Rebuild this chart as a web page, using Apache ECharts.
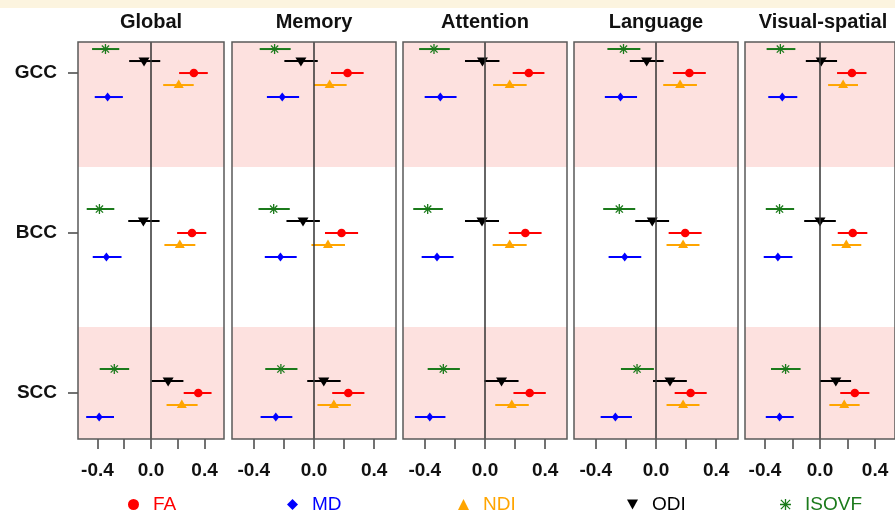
<!DOCTYPE html>
<html>
<head>
<meta charset="utf-8">
<script src="https://cdn.jsdelivr.net/npm/echarts@6/dist/echarts.min.js"></script>
<style>
  html, body { margin: 0; padding: 0; background: #fff; }
  #main { width: 895px; height: 518px; }
</style>
</head>
<body>
<div id="main"></div>
<script>
const panels = ['Global', 'Memory', 'Attention', 'Language', 'Visual-spatial'];
const regions = ['GCC', 'BCC', 'SCC'];
const measures = ['FA', 'MD', 'NDI', 'ODI', 'ISOVF'];
const xTicks = [-0.4, -0.2, 0, 0.2, 0.4];
const xTickLabels = [-0.4, 0, 0.4];

// one row per panel, columns = GCC, BCC, SCC
const faEst = [[0.320, 0.306, 0.353], [0.223, 0.183, 0.228], [0.291, 0.268, 0.297], [0.222, 0.194, 0.230], [0.232, 0.238, 0.253]];
const faLo  = [[0.210, 0.195, 0.244], [0.113, 0.073, 0.121], [0.184, 0.158, 0.189], [0.112, 0.084, 0.124], [0.124, 0.129, 0.147]];
const faHi  = [[0.424, 0.413, 0.452], [0.330, 0.293, 0.335], [0.395, 0.376, 0.404], [0.331, 0.303, 0.337], [0.338, 0.344, 0.359]];

const mdEst = [[-0.324, -0.333, -0.387], [-0.211, -0.223, -0.254], [-0.297, -0.319, -0.367], [-0.236, -0.208, -0.270], [-0.274, -0.306, -0.294]];
const mdLo  = [[-0.420, -0.435, -0.484], [-0.313, -0.327, -0.355], [-0.401, -0.421, -0.466], [-0.340, -0.315, -0.368], [-0.376, -0.409, -0.394]];
const mdHi  = [[-0.210, -0.220, -0.276], [-0.099, -0.115, -0.144], [-0.189, -0.209, -0.263], [-0.126, -0.098, -0.160], [-0.165, -0.200, -0.191]];

const ndiEst = [[0.207, 0.215, 0.230], [0.104, 0.093, 0.132], [0.164, 0.164, 0.178], [0.160, 0.180, 0.180], [0.168, 0.191, 0.176]];
const ndiLo  = [[0.091, 0.100, 0.116], [0.000, -0.017, 0.023], [0.054, 0.051, 0.068], [0.048, 0.070, 0.070], [0.059, 0.085, 0.068]];
const ndiHi  = [[0.319, 0.331, 0.348], [0.217, 0.206, 0.245], [0.277, 0.277, 0.291], [0.272, 0.289, 0.289], [0.276, 0.300, 0.288]];

const odiEst = [[-0.052, -0.057, 0.128], [-0.087, -0.073, 0.065], [-0.017, -0.020, 0.110], [-0.062, -0.025, 0.093], [0.009, 0.000, 0.115]];
const odiLo  = [[-0.163, -0.170, 0.005], [-0.197, -0.183, -0.045], [-0.133, -0.133, -0.003], [-0.174, -0.138, -0.020], [-0.103, -0.115, 0.000]];
const odiHi  = [[0.069, 0.064, 0.242], [0.025, 0.039, 0.177], [0.096, 0.093, 0.223], [0.051, 0.087, 0.205], [0.124, 0.115, 0.226]];

const isoEst = [[-0.340, -0.385, -0.274], [-0.262, -0.268, -0.220], [-0.339, -0.381, -0.277], [-0.216, -0.244, -0.126], [-0.288, -0.294, -0.250]];
const isoLo  = [[-0.440, -0.480, -0.383], [-0.361, -0.369, -0.324], [-0.438, -0.477, -0.381], [-0.323, -0.351, -0.233], [-0.388, -0.394, -0.356]];
const isoHi  = [[-0.237, -0.274, -0.163], [-0.155, -0.161, -0.110], [-0.234, -0.280, -0.167], [-0.104, -0.138, -0.014], [-0.179, -0.188, -0.141]];

const FONT = '"Liberation Sans", Arial, Helvetica, sans-serif';

// per-measure style + vertical offset inside a region row
const styles = {
  FA:    { color: '#ff0000', shape: 'circle',  dy: 0 },
  MD:    { color: '#0000ff', shape: 'diamond', dy: -0.15 },
  NDI:   { color: '#ffa500', shape: 'tri',     dy: -0.075 },
  ODI:   { color: '#000000', shape: 'itri',    dy: 0.075 },
  ISOVF: { color: '#1b7a1b', shape: 'star',    dy: 0.15 }
};
const values = {
  FA: [faEst, faLo, faHi], MD: [mdEst, mdLo, mdHi], NDI: [ndiEst, ndiLo, ndiHi],
  ODI: [odiEst, odiLo, odiHi], ISOVF: [isoEst, isoLo, isoHi]
};

// panel layout in px (panels are not all equally wide)
const gridLeft  = [78, 232, 403, 574, 745];
const gridWidth = [146, 164, 164, 164, 156];
const X_MIN = -0.545, X_MAX = 0.545;
const Y_MIN = 0.7125, Y_MAX = 3.194;

function marker(shape, x, y, color) {
  if (shape === 'circle') {
    return [{ type: 'circle', shape: { cx: x, cy: y, r: 4.3 }, style: { fill: color } }];
  }
  if (shape === 'diamond') {
    return [{ type: 'polygon', shape: { points: [[x, y - 4.5], [x + 3.5, y], [x, y + 4.5], [x - 3.5, y]] }, style: { fill: color } }];
  }
  if (shape === 'tri') {
    return [{ type: 'polygon', shape: { points: [[x, y - 5.5], [x + 5, y + 3], [x - 5, y + 3]] }, style: { fill: color } }];
  }
  if (shape === 'itri') {
    return [{ type: 'polygon', shape: { points: [[x - 5.5, y - 3.5], [x + 5.5, y - 3.5], [x, y + 5.5]] }, style: { fill: color } }];
  }
  // asterisk (pch 8)
  var r = 5, d = 3.6, st = { stroke: color, lineWidth: 1.3 };
  return [
    { type: 'line', shape: { x1: x - r, y1: y, x2: x + r, y2: y }, style: st },
    { type: 'line', shape: { x1: x, y1: y - r, x2: x, y2: y + r }, style: st },
    { type: 'line', shape: { x1: x - d, y1: y - d, x2: x + d, y2: y + d }, style: st },
    { type: 'line', shape: { x1: x - d, y1: y + d, x2: x + d, y2: y - d }, style: st }
  ];
}

function makeRender(shape, color) {
  return function (params, api) {
    var lo = api.coord([api.value(0), api.value(3)]);
    var hi = api.coord([api.value(1), api.value(3)]);
    var p = api.coord([api.value(2), api.value(3)]);
    var children = [{
      type: 'line',
      shape: { x1: lo[0], y1: lo[1], x2: hi[0], y2: hi[1] },
      style: { stroke: color, lineWidth: 2 }
    }];
    return { type: 'group', children: children.concat(marker(shape, p[0], p[1], color)) };
  };
}

var grids = [], xAxes = [], yAxes = [], series = [], titles = [];

panels.forEach(function (name, i) {
  grids.push({
    left: gridLeft[i], width: gridWidth[i], top: 42, height: 397,
    show: true, z: 10, backgroundColor: 'transparent',
    borderColor: '#5a5a5a', borderWidth: 1.5
  });
  titles.push({
    text: name, left: gridLeft[i] + gridWidth[i] / 2, top: 12, textAlign: 'center', padding: 0,
    textStyle: { fontFamily: FONT, fontSize: 20, fontWeight: 'bold', color: '#111' }
  });
  xAxes.push({
    type: 'value', gridIndex: i, min: X_MIN, max: X_MAX,
    splitLine: { show: false },
    axisLine: { show: false, onZero: false },
    axisTick: { show: true, customValues: xTicks, length: 10, lineStyle: { color: '#444', width: 1.5 } },
    axisLabel: {
      customValues: xTickLabels, margin: 22,
      formatter: function (v) { return v.toFixed(1); },
      fontFamily: FONT, fontSize: 19, fontWeight: 'bold', color: '#111'
    }
  });
  yAxes.push({
    type: 'value', gridIndex: i, min: Y_MIN, max: Y_MAX,
    show: i === 0,
    splitLine: { show: false },
    axisLine: { show: false, onZero: false },
    axisTick: { show: true, customValues: [1, 2, 3], length: 10, lineStyle: { color: '#444', width: 1.5 } },
    axisLabel: {
      customValues: [1, 2, 3], margin: 21,
      formatter: function (v) { return regions[3 - Math.round(v)]; },
      fontFamily: FONT, fontSize: 19, fontWeight: 'bold', color: '#111'
    }
  });

  // shaded region bands + zero line
  series.push({
    type: 'line', xAxisIndex: i, yAxisIndex: i, data: [], z: 1, silent: true,
    markArea: {
      silent: true,
      itemStyle: { color: '#fde1df' },
      data: [
        [{ yAxis: 2.4125 }, { yAxis: Y_MAX }],
        [{ yAxis: Y_MIN }, { yAxis: 1.4125 }]
      ]
    },
    markLine: {
      silent: true, symbol: 'none', label: { show: false },
      lineStyle: { color: '#333', width: 1.5, type: 'solid' },
      data: [{ xAxis: 0 }]
    }
  });

  measures.forEach(function (m) {
    var st = styles[m], v = values[m];
    var rows = regions.map(function (r, k) {
      return [v[1][i][k], v[2][i][k], v[0][i][k], (3 - k) + st.dy];
    });
    series.push({
      type: 'custom', name: m, xAxisIndex: i, yAxisIndex: i, z: 3,
      itemStyle: { color: st.color },
      encode: { x: [0, 1, 2], y: 3 },
      renderItem: makeRender(st.shape, st.color),
      data: rows
    });
  });
});

// legend: one box per measure so each can sit where it does in the figure
var legendIcons = {
  FA: 'circle', MD: 'diamond', NDI: 'triangle',
  ODI: 'path://M0,0 L10,0 L5,9 Z',
  ISOVF: 'path://M4.4,0h1.2v10h-1.2z M0,4.4h10v1.2h-10z M1.2,0.4L9.6,8.8L8.8,9.6L0.4,1.2Z M8.8,0.4L9.6,1.2L1.2,9.6L0.4,8.8Z'
};
var legendLeft = [128, 287, 458, 627, 780];
var legends = measures.map(function (m, k) {
  return {
    left: legendLeft[k], top: 495, padding: 0,
    itemWidth: 11, itemHeight: 11, selectedMode: false,
    data: [{ name: m, icon: legendIcons[m], textStyle: { color: styles[m].color } }],
    textStyle: { fontFamily: FONT, fontSize: 19, padding: [0, 0, 0, 9] }
  };
});

var chart = echarts.init(document.getElementById('main'), null, { renderer: 'canvas' });
chart.setOption({
  animation: false,
  backgroundColor: '#fff',
  graphic: [{ type: 'rect', left: 0, top: 0, shape: { width: 895, height: 8 }, style: { fill: '#fcf4df' } }],
  title: titles,
  legend: legends,
  grid: grids,
  xAxis: xAxes,
  yAxis: yAxes,
  series: series
});
</script>
</body>
</html>
